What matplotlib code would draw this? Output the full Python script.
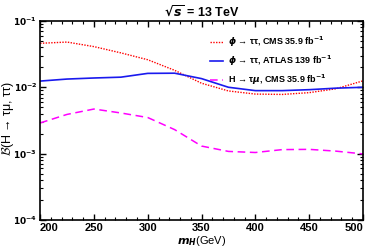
import matplotlib.pyplot as plt
from matplotlib.ticker import LogLocator, NullFormatter, FuncFormatter
import numpy as np

plt.rcParams["font.family"] = ["Liberation Sans", "DejaVu Sans"]
plt.rcParams["font.weight"] = "bold"
plt.rcParams["mathtext.fontset"] = "dejavusans"

# masses (GeV)
m_h = [200, 225, 250, 275, 300, 325, 350, 375, 400, 425, 450, 475, 500]

# phi -> tau tau, CMS 35.9 fb^-1
cms_tautau = [0.046, 0.048, 0.041, 0.033, 0.026, 0.018, 0.0115, 0.0088,
              0.0079, 0.0078, 0.0083, 0.0095, 0.0125]
# phi -> tau tau, ATLAS 139 fb^-1
atlas_tautau = [0.0124, 0.0133, 0.0138, 0.0142, 0.0162, 0.0163, 0.0135,
                0.0100, 0.0089, 0.0089, 0.0092, 0.0097, 0.0100]
# H -> tau mu, CMS 35.9 fb^-1
cms_taumu = [0.0029, 0.0039, 0.0047, 0.0041, 0.0035, 0.0023, 0.0013,
             0.00108, 0.00104, 0.00115, 0.00116, 0.00109, 0.00099]

x_ticks = [200, 250, 300, 350, 400, 450, 500]

fig = plt.figure(figsize=(3.75, 2.52), dpi=100)
ax = fig.add_axes([0.107, 0.127, 0.861, 0.79])

ax.plot(m_h, cms_tautau, color="red", linestyle=(0, (1, 1)), linewidth=1.0,
        label=r"$\phi$ → ττ, CMS 35.9 fb$^{-1}$")
ax.plot(m_h, atlas_tautau, color="#1a1aee", linestyle="-", linewidth=1.2,
        label=r"$\phi$ → ττ, ATLAS 139 fb$^{-1}$")
ax.plot(m_h, cms_taumu, color="magenta", linestyle=(0, (5, 3)), linewidth=1.1,
        label=r"H → τ$\mu$, CMS 35.9 fb$^{-1}$")

ax.set_yscale("log")
ax.set_xlim(200, 500)
ax.set_ylim(1e-4, 1e-1)
ax.set_xticks(x_ticks)
ax.set_xticks(np.arange(200, 501, 10), minor=True)
ax.yaxis.set_major_locator(LogLocator(base=10, numticks=10))
ax.yaxis.set_major_formatter(
    FuncFormatter(lambda v, p: r"$\mathbf{10^{%d}}$" % int(round(np.log10(v)))))
ax.yaxis.set_minor_locator(LogLocator(base=10, subs=range(2, 10), numticks=20))
ax.yaxis.set_minor_formatter(NullFormatter())

ax.tick_params(which="both", direction="in", top=True, right=True)
ax.tick_params(axis="x", labelsize=8, pad=2)
ax.tick_params(axis="y", labelsize=6.5, pad=2)
ax.tick_params(which="major", length=4, width=1)
ax.tick_params(which="minor", length=2, width=0.8)
for s in ax.spines.values():
    s.set_linewidth(1.2)

xl = ax.get_xticklabels()
xl[0].set_ha("left")
xl[-1].set_ha("right")

ax.set_xlabel(r"$m_H$(GeV)", fontsize=8, labelpad=1)
ylab = ax.set_ylabel(r"$\mathcal{B}$(H → τμ, ττ)", fontsize=9)
ylab.set_math_fontfamily("cm")
ax.yaxis.set_label_coords(-0.075, 0.51)
ax.set_title(r"$\sqrt{s}$ = 13 TeV", fontsize=9, fontweight="bold", pad=3)

ax.legend(loc="upper right", frameon=False, fontsize=6.5, handlelength=1.4,
          handletextpad=0.6, labelspacing=0.5, bbox_to_anchor=(0.93, 0.97))

fig.savefig("out.png", dpi=100)
